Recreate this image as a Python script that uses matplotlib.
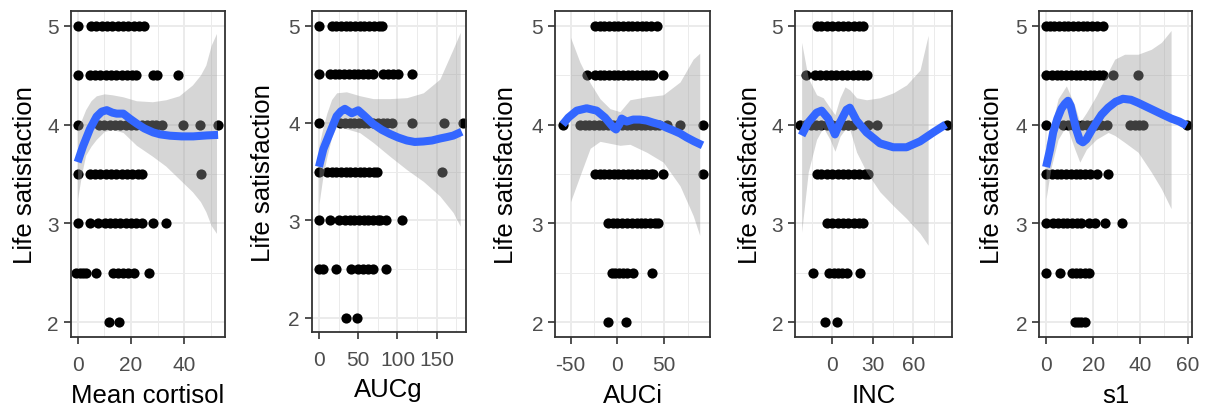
import matplotlib
matplotlib.use("Agg")
import matplotlib.pyplot as plt

plt.rcParams["font.family"] = ["Liberation Sans", "DejaVu Sans"]
plt.rcParams["axes.unicode_minus"] = False

W, H = 1207, 410
Y_LABEL = "Life satisfaction"
LEVELS = [5, 4.5, 4, 3.5, 3, 2.5, 2]

# ---- Mean cortisol ----
cort_pts = {
    5: [0, 5, 7, 9, 11, 13, 15, 17, 19, 21, 23, 25],
    4.5: [0, 4.5, 6.5, 8.5, 10.5, 12.5, 14.5, 16.5, 18.5, 20.5, 22, 28.4, 29.8, 37.5],
    4: [0, 8, 10, 12, 14, 16, 18, 20, 22, 24, 26, 28, 29.5, 31.5, 39.5, 45.8, 52.6],
    3.5: [0, 4.6, 6.5, 8.5, 10.5, 12.5, 14.5, 16.5, 18.5, 20.5, 22.5, 24, 46.1],
    3: [0, 4.6, 7.7, 10.2, 12, 14, 16, 18, 20, 22, 24, 28.3, 33.1],
    2.5: [-0.5, 0.8, 2, 3.1, 6.9, 13.4, 15, 17, 19, 21.1, 26.7],
    2: [11.9, 15.5],
}
cort_fit_x = [0, 2, 4.6, 7.1, 9, 10.9, 13, 14.6, 17.1, 19.5, 22.1, 25, 28.3, 31,
              34.6, 39, 43.3, 48.4, 52.6]
cort_fit_y = [3.62, 3.78, 3.955, 4.08, 4.13, 4.145, 4.12, 4.11, 4.11, 4.06, 4.01,
              3.96, 3.92, 3.90, 3.887, 3.88, 3.88, 3.89, 3.895]
cort_band_x = [0, 1.5, 3, 5, 7, 10, 13, 17, 22, 28, 33, 38, 43, 46, 48, 50, 52]
cort_band_hi = [3.98, 4.05, 4.15, 4.24, 4.29, 4.31, 4.30, 4.28, 4.24, 4.23, 4.25,
                4.29, 4.40, 4.50, 4.60, 4.80, 4.92]
cort_band_lo = [3.25, 3.50, 3.69, 3.78, 3.85, 3.93, 3.95, 3.92, 3.79, 3.68, 3.58,
                3.45, 3.32, 3.22, 3.12, 2.98, 2.90]

# ---- AUCg ----
aucg_pts = {
    5: [0, 16, 22, 28, 34, 40, 46, 52, 58, 64, 70, 76, 80],
    4.5: [0, 14, 20, 26, 32, 38, 44, 50, 56, 62, 69, 82, 88, 94, 101, 119],
    4: [0, 27, 33, 39, 45, 51, 57, 63, 69, 75, 81, 87, 93, 119, 159, 183],
    3.5: [0, 10.6, 16, 22, 28, 34, 40, 46, 52, 58, 64, 70, 73.6, 156.5],
    3: [0, 14, 26, 33, 39, 45, 51, 57, 63, 69, 75, 78, 86, 106],
    2.5: [0, 5.5, 21.7, 41, 50, 56, 62, 69, 86],
    2: [35, 49],
}
aucg_fit_x = [0, 5.5, 14, 22.5, 28, 33, 41.7, 50, 57, 69, 80, 90.5, 101, 112, 122,
              133, 144, 154, 163, 171, 182]
aucg_fit_y = [3.55, 3.73, 3.90, 4.07, 4.12, 4.145, 4.10, 4.13, 4.08, 3.99, 3.93,
              3.887, 3.85, 3.82, 3.805, 3.81, 3.82, 3.84, 3.855, 3.87, 3.91]
aucg_band_x = [0, 5, 10, 16, 22.5, 35, 52, 69, 90, 112, 133, 154, 171, 180]
aucg_band_hi = [3.77, 3.95, 4.10, 4.24, 4.31, 4.32, 4.28, 4.25, 4.25, 4.26, 4.31,
                4.45, 4.76, 4.93]
aucg_band_lo = [3.17, 3.45, 3.65, 3.85, 3.97, 3.94, 3.90, 3.80, 3.66, 3.52, 3.40,
                3.25, 3.08, 2.94]

# ---- AUCi ----
auci_pts = {
    5: [-24, -19, -14, -9, -4, 1, 6, 11, 16, 21, 26, 31, 36, 42],
    4.5: [-32, -24, -19, -14, -9, -4, 1, 6, 11, 16, 21, 26, 31, 35, 38.5, 48.4],
    4: [-58.4, -40, -35, -30, -25, -20, -15, -10, -5, 0, 5, 10, 15, 20, 25, 30,
        35, 40, 45, 53, 67, 91],
    3.5: [-24, -19, -14, -9, -4, 1, 6, 11, 16, 21, 26, 31, 36, 38.5, 48.4, 91],
    3: [-9.6, -5, 0, 5, 10, 15.3, 20.7, 25, 30, 35, 40, 43.8],
    2.5: [-6, -2, 2, 6, 10, 17, 36.7],
    2: [-10.3, 8.9],
}
auci_fit_x = [-58.4, -52.3, -43.4, -32.8, -22, -13.2, -4.3, -1.4, 2, 4.6, 10, 17,
              24, 31.3, 38, 45.6, 52, 59.8, 67, 74, 82, 91]
auci_fit_y = [4.0, 4.07, 4.14, 4.164, 4.14, 4.07, 3.97, 3.95, 4.0, 4.06, 4.03,
              4.05, 4.05, 4.04, 4.02, 4.0, 3.97, 3.94, 3.91, 3.87, 3.83, 3.79]
auci_band_x = [-50, -40, -29, -18.5, -7.8, 2.8, 13.5, 31.3, 49, 67, 81, 88]
auci_band_hi = [4.88, 4.63, 4.42, 4.26, 4.16, 4.13, 4.25, 4.28, 4.30, 4.43, 4.66,
                4.72]
auci_band_lo = [3.22, 3.48, 3.76, 3.83, 3.81, 3.79, 3.80, 3.72, 3.62, 3.38, 3.08,
                2.88]

# ---- INC ----
inc_pts = {
    5: [-11.6, -8, -4, 0, 4, 8, 12, 16, 20, 23],
    4.5: [-19.5, -12.8, -9, -5, -1, 3, 7, 11, 15, 19, 23, 25.4],
    4: [-24, -20, -16, -12, -8, -4, 0, 4, 8, 12, 15.6, 26.7, 32.8, 84.7],
    3.5: [-11.6, -8, -4, 0, 4, 8, 12, 16, 20, 24, 26.7],
    3: [-3.7, 0, 4, 8, 12, 16, 20, 23],
    2.5: [-14.6, -2.2, 1, 4, 7, 10.6, 20.5],
    2: [-5.4, 3.2],
}
inc_fit_x = [-22.7, -17.8, -11.6, -7.9, -3, 2, 5.7, 10.6, 13, 18, 25.4, 35.3,
             45.2, 55, 65, 74.8, 84]
inc_fit_y = [3.89, 4.02, 4.12, 4.14, 4.06, 3.90, 4.02, 4.15, 4.17, 4.04, 3.92,
             3.81, 3.77, 3.77, 3.83, 3.92, 4.0]
inc_band_x = [-22.7, -17.8, -11.6, -6.7, -1.7, 2, 5.7, 9.4, 13, 18, 25.4, 35.3,
              45.2, 55, 65, 71]
inc_band_hi = [4.83, 4.47, 4.30, 4.27, 4.17, 4.10, 4.27, 4.38, 4.35, 4.27, 4.25,
               4.27, 4.32, 4.40, 4.55, 4.90]
inc_band_lo = [2.91, 3.52, 3.85, 3.97, 3.85, 3.73, 3.88, 3.95, 3.95, 3.72, 3.52,
               3.32, 3.18, 3.05, 2.90, 2.78]

# ---- s1 ----
s1_pts = {
    5: [0, 1.5, 3.5, 5.5, 7.5, 9.5, 11.5, 13.5, 15.5, 17.5, 19.5, 21.5, 24.3],
    4.5: [0, 2.4, 4.5, 6.5, 8.5, 10.5, 12.5, 14.5, 16.5, 18.5, 20.5, 22.5, 24.3,
          28.2, 39.1],
    4: [0, 7.3, 9.3, 11.3, 13.3, 15.3, 17.3, 19.3, 21.3, 23.3, 25.7, 35.6, 37.5,
        39.5, 41.2, 59.6],
    3.5: [0, 2.4, 4.5, 6.5, 8.5, 10.5, 12.5, 14.5, 16.5, 18.5, 21.5, 26.4],
    3: [0, 3, 5, 7, 9, 11, 13, 15, 18, 20.8, 25, 32.3],
    2.5: [0, 5.9, 10.9, 12.5, 14.5, 16.5, 18],
    2: [12.3, 13.5, 15, 16.5],
}
s1_fit_x = [0, 1.7, 3.0, 4.8, 6.5, 8, 9.3, 10.4, 11.4, 12.8, 14.3, 15.6, 17.1, 19,
            21.3, 23.5, 26.3, 29.5, 32.6, 36, 39, 42.5, 46, 49.5, 53.1, 56.5, 59.6]
s1_fit_y = [3.57, 3.75, 3.92, 4.06, 4.16, 4.21, 4.24, 4.19, 4.09, 3.95, 3.84, 3.82,
            3.85, 3.93, 4.02, 4.10, 4.17, 4.23, 4.26, 4.25, 4.22, 4.18, 4.14, 4.10,
            4.06, 4.03, 3.99]
s1_band_x = [0, 2, 5.1, 8.6, 12.2, 14.3, 17.1, 21.3, 26.3, 29.1, 33.3, 39, 44.6,
             48.9, 53]
s1_band_hi = [3.80, 3.95, 4.26, 4.39, 4.19, 4.02, 4.12, 4.29, 4.53, 4.66, 4.71,
              4.71, 4.76, 4.83, 4.95]
s1_band_lo = [3.25, 3.55, 3.85, 3.99, 3.75, 3.62, 3.75, 3.85, 3.92, 3.89, 3.82,
              3.72, 3.52, 3.35, 3.15]

PANELS = [
    ("Mean cortisol", cort_pts, cort_fit_x, cort_fit_y, cort_band_x, cort_band_lo, cort_band_hi),
    ("AUCg", aucg_pts, aucg_fit_x, aucg_fit_y, aucg_band_x, aucg_band_lo, aucg_band_hi),
    ("AUCi", auci_pts, auci_fit_x, auci_fit_y, auci_band_x, auci_band_lo, auci_band_hi),
    ("INC", inc_pts, inc_fit_x, inc_fit_y, inc_band_x, inc_band_lo, inc_band_hi),
    ("s1", s1_pts, s1_fit_x, s1_fit_y, s1_band_x, s1_band_lo, s1_band_hi),
]

# layout in pixels: left, right, top, bottom of the panel, y-title centre, x-title baseline
BOXES = [
    (70.7, 225.3, 11.7, 338.3, 25, 403.3),
    (311.7, 465.7, 12.0, 333.3, 263, 396.7),
    (555.0, 710.0, 11.7, 338.3, 506, 403.3),
    (795.0, 952.3, 11.7, 338.3, 750, 403.3),
    (1039.0, 1192.3, 11.7, 338.3, 991.7, 403.3),
]
XLIMS = [(-2.6, 55.3), (-9.3, 187), (-66.6, 99), (-27.6, 88.9), (-3, 62)]
XTICKS = [[0, 20, 40], [0, 50, 100, 150], [-50, 0, 50], [0, 30, 60], [0, 20, 40, 60]]
XMINOR = [[10, 30, 50], [25, 75, 125, 175], [-25, 25, 75], [-15, 15, 45, 75], [10, 30, 50]]

fig = plt.figure(figsize=(W / 100, H / 100), dpi=100)

for (title, pts, fx, fy, bx, blo, bhi), box, xlim, xt, xm in zip(
        PANELS, BOXES, XLIMS, XTICKS, XMINOR):
    left, right, top, bottom, ylab_x, xlab_base = box
    ax = fig.add_axes([left / W, 1 - bottom / H, (right - left) / W, (bottom - top) / H])

    for lvl in LEVELS:
        ax.scatter(pts[lvl], [lvl] * len(pts[lvl]), s=54, color="black",
                   linewidths=0, zorder=2)
    ax.fill_between(bx, blo, bhi, color="#999999", alpha=0.4, linewidth=0, zorder=3)
    ax.plot(fx, fy, color="#3366FF", linewidth=5.8, solid_capstyle="butt", zorder=4)

    ax.set_xlim(*xlim)
    ax.set_ylim(1.85, 5.15)
    ax.set_xticks(xt)
    ax.set_xticks(xm, minor=True)
    ax.set_yticks([2, 3, 4, 5])
    ax.set_yticks([2.5, 3.5, 4.5], minor=True)
    ax.set_axisbelow(True)
    ax.grid(True, which="major", color="#EBEBEB", linewidth=1.4)
    ax.grid(True, which="minor", color="#EBEBEB", linewidth=0.7)

    for sp in ax.spines.values():
        sp.set_color("#333333")
        sp.set_linewidth(1.3)
    ax.tick_params(which="major", length=5, width=1.2, color="#333333",
                   labelcolor="#4D4D4D", labelsize=15)
    ax.tick_params(axis="x", which="major", pad=7.5)
    ax.tick_params(axis="y", which="major", pad=3.5)
    ax.tick_params(which="minor", length=0)

    ax.set_xlabel(title, fontsize=18.5, va="baseline")
    ax.xaxis.set_label_coords(0.5, (bottom - xlab_base) / (bottom - top))
    ax.set_ylabel(Y_LABEL, fontsize=18.5, va="center")
    ax.yaxis.set_label_coords((ylab_x - left) / (right - left), 0.5)

fig.savefig("out.png", dpi=100)
